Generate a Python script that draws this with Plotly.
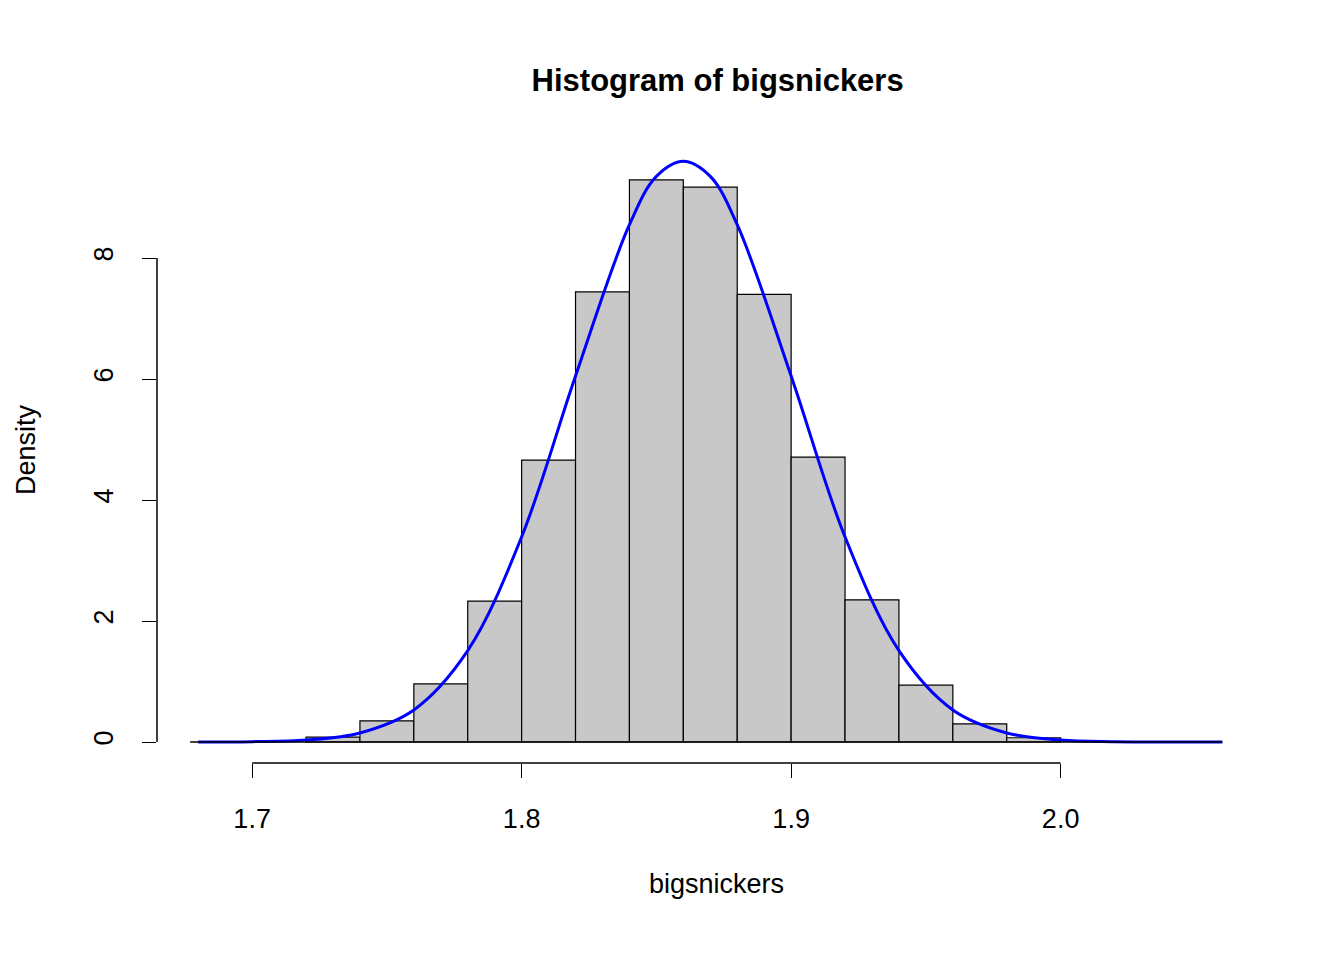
import plotly.graph_objects as go

bin_left = [1.72,1.74,1.76,1.78,1.80,1.82,1.84,1.86,1.88,1.90,1.92,1.94,1.96,1.98]
density = [0.08,0.35,0.96,2.33,4.66,7.44,9.29,9.17,7.40,4.71,2.35,0.94,0.30,0.07]
bin_width = 0.02

curve_x = [1.68,1.70,1.72,1.74,1.76,1.78,1.80,1.82,1.84,1.85,1.86,1.87,1.88,1.90,1.92,1.94,1.96,1.98,2.00,2.02,2.04,2.06]
curve_y = [0.0,0.006,0.033,0.15,0.53,1.51,3.39,6.05,8.55,9.35,9.6,9.35,8.55,6.05,3.39,1.51,0.53,0.15,0.033,0.006,0.0,0.0]

xticks = [1.7,1.8,1.9,2.0]
yticks = [0,2,4,6,8]

F = "Liberation Sans, Arial, sans-serif"
fig = go.Figure()
fig.add_trace(go.Bar(x=[b+bin_width/2 for b in bin_left], y=density, width=bin_width,
                     marker=dict(color="#c8c8c8", line=dict(color="black", width=1.2))))
fig.add_trace(go.Scatter(x=curve_x, y=curve_y, mode="lines", line=dict(color="blue", width=3, shape="spline")))

xr = [1.6647, 1.6647 + (1276-157)/2695]
yr = [-0.347, 10.0]
fig.update_layout(
    width=1344, height=960, showlegend=False, plot_bgcolor="white", paper_bgcolor="white",
    margin=dict(l=149, r=76, t=129, b=960-755),
    title=dict(text="<b>Histogram of bigsnickers</b>", x=0.528, xanchor="center", y=1-72/960, yanchor="middle",
               font=dict(family=F, size=31, color="black")),
    xaxis=dict(range=xr, tickvals=xticks, ticktext=["1.7","1.8","1.9","2.0"], ticks="outside", ticklen=14,
               tickcolor="black", showgrid=False, zeroline=False, showline=False, ticklabelstandoff=18,
               tickfont=dict(family=F, size=27, color="black"),
               title=dict(text="bigsnickers", font=dict(family=F, size=27, color="black"), standoff=40)),
    yaxis=dict(range=yr, tickvals=yticks, ticks="outside", ticklen=14, tickcolor="black", tickangle=-90,
               showgrid=False, zeroline=False, showline=False, ticklabelstandoff=18,
               tickfont=dict(family=F, size=27, color="black"),
               title=dict(text="Density", font=dict(family=F, size=27, color="black"), standoff=45)),
    shapes=[
        dict(type="line", xref="x", yref="paper", x0=xticks[0], x1=xticks[-1], y0=0, y1=0, line=dict(color="black", width=1.5)),
        dict(type="line", xref="paper", yref="y", x0=0, x1=0, y0=yticks[0], y1=yticks[-1], line=dict(color="black", width=1.5)),
        dict(type="line", xref="x", yref="y", x0=1.677, x1=2.06, y0=0, y1=0, line=dict(color="black", width=1.5)),
    ],
)
fig.write_html("out.html")
